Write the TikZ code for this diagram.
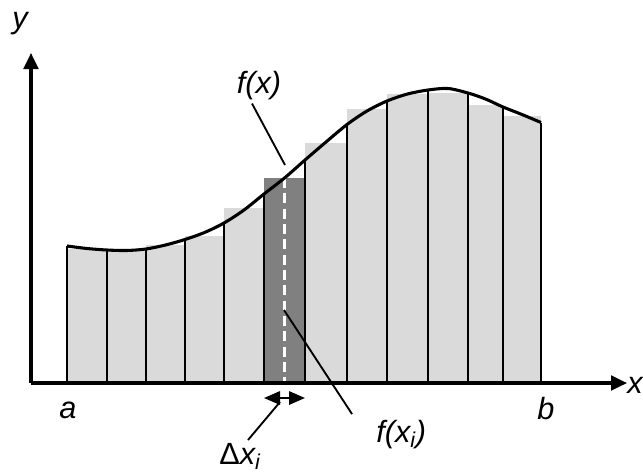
\documentclass[tikz,border=0pt]{standalone}
\usepackage{fontspec}
\setmainfont{Liberation Sans}
\usetikzlibrary{arrows.meta}
\definecolor{barlight}{HTML}{DADADA}
\definecolor{bardark}{HTML}{808080}
\tikzset{
  axisline/.style={line width=2.3pt,-{Triangle[width=11pt,length=12pt]}},
  stripline/.style={line width=2.2pt},
  curveline/.style={line width=2.3pt},
  leader/.style={line width=1.4pt},
  lbl/.style={inner sep=0pt,font=\fontsize{23}{27}\selectfont\itshape}
}
\begin{document}
\begin{tikzpicture}[x=0.75pt,y=-0.75pt]
\useasboundingbox (0,0) rectangle (643,472);
\coordinate (o) at (31,383);
% points of the partition on the curve
\foreach \n/\px/\py in {0/67/246,1/107/250,2/146/249,3/185/239.5,4/224/223,5/264/194,6/305/160,7/347/124.5,8/387/101,9/428/90,10/468/93,11/503/107,12/541/122.5}
    \coordinate (p\n) at (\px,\py);
% midpoints of the curve
\foreach \n/\px/\py in {0/87/248.5,1/126.5/250.5,2/165.5/245,3/204.5/232.5,4/244/210,5/284.5/178,6/326/142,7/367/111,8/407.5/94,9/448/88.5,10/485.5/99,11/522/114.5}
    \coordinate (q\n) at (\px,\py);
% rectangles of the sum
\foreach \xl/\xr/\yt in {67/107/249,107/146/251,146/185/245,185/224/236,224/264/208,305/347/143,347/387/109,387/428/94,428/468/93,468/503/105,503/541/116}
    \fill[barlight] (\xl,383) rectangle (\xr,\yt);
\fill[bardark] (264,383) rectangle (305,178);
\foreach \n in {0,...,12}
    \draw[stripline] (p\n) -- (p\n |- o);
\draw[white,line width=2.2pt,dash pattern=on 7.5pt off 4pt] (q5) -- (q5 |- o);
\draw[curveline] plot[smooth] coordinates {(p0) (q0) (p1) (q1) (p2) (q2) (p3) (q3) (p4) (q4) (p5) (q5) (p6) (q6) (p7) (q7) (p8) (q8) (p9) (q9) (p10) (q10) (p11) (q11) (p12)};
% axes
\draw[axisline] (o) -- (627,383);
\draw[axisline] (o) -- (31,53);
\node[lbl] (ylab) at (20,24) {y};
\node[lbl] (xlab) at (635,385) {x};
\node[lbl] (alab) at (68,410) {a};
\node[lbl] (blab) at (546,409) {b};
% labels with leaders
\node[lbl] (fx) at (259,86) {f(x)};
\coordinate (fxend) at (285,165);
\draw[leader] ([shift={(-7,3)}]fx.south) -- (fxend);
\node[lbl,anchor=north west] (fxi) at (376,420) {f(x\textsubscript{i})};
\coordinate (fxiend) at (284,310);
\draw[leader] ([shift={(-24,-6)}]fxi.north west) -- (fxiend);
\coordinate (dl) at (p5 |- 0,398);
\coordinate (dr) at (p6 |- 0,398);
\draw[line width=1.6pt,{Triangle[width=10pt,length=12pt]}-{Triangle[width=10pt,length=12pt]}] (dl) -- (dr);
\node[lbl,anchor=north] (dx) at (240,443) {{\upshape Δ}x\textsubscript{i}};
\coordinate (dxend) at (280,402);
\draw[leader] ([shift={(8,-3)}]dx.north) -- (dxend);
\end{tikzpicture}
\end{document}
